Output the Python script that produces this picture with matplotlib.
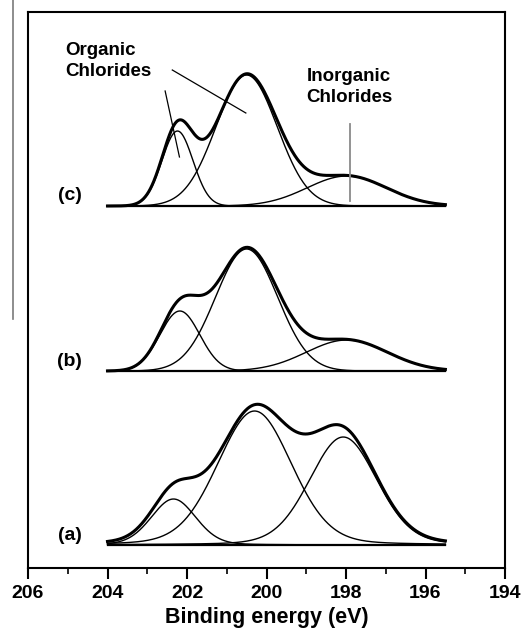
import numpy as np
import matplotlib
matplotlib.use('Agg')
import matplotlib.pyplot as plt
from matplotlib.lines import Line2D

plt.rcParams['font.family'] = ['Liberation Sans', 'DejaVu Sans']
plt.rcParams['font.weight'] = 'bold'

# Cl 2p fit components (binding energy in eV)
# order of components: organic (high BE), organic (main), inorganic
labels = ['(a)', '(b)', '(c)']
centres_a = [202.34, 200.30, 198.07]
heights_a = [46, 134, 108]
fwhm_a = [1.32, 2.20, 2.00]

centres_b = [202.18, 200.50, 197.98]
heights_b = [60, 122, 31]
fwhm_b = [1.18, 1.84, 2.40]

centres_c = [202.24, 200.50, 197.98]
heights_c = [75, 131, 30]
fwhm_c = [0.92, 1.81, 2.35]

lorentz_frac = [0.15, 0.0, 0.0]
baselines = [23, 197, 362]

e_start, e_end = 204.0, 195.5


def pseudo_voigt(x, c, h, w, eta):
    s = w / 2.3548
    g = np.exp(-0.5 * ((x - c) / s) ** 2)
    l = 1.0 / (1.0 + ((x - c) / (w / 2)) ** 2)
    return h * ((1 - eta) * g + eta * l)


fig = plt.figure(figsize=(5.22, 6.30), dpi=100)
ax = fig.add_axes([28 / 522, 62 / 630, 477 / 522, 556 / 630])

x = np.linspace(e_start, e_end, 600)
spectra = [(centres_a, heights_a, fwhm_a),
           (centres_b, heights_b, fwhm_b),
           (centres_c, heights_c, fwhm_c)]

for i, (cs, hs, ws) in enumerate(spectra):
    base = baselines[i]
    env = np.zeros_like(x)
    for c, h, w in zip(cs, hs, ws):
        comp = pseudo_voigt(x, c, h, w, lorentz_frac[i])
        env += comp
        ax.plot(x, base + comp, color='black', lw=1.0)
    ax.plot([e_start, e_end], [base, base], color='black', lw=1.6)
    ax.plot(x, base + env, color='black', lw=2.2)
    ax.text(204.95, base + 10, labels[i], fontsize=14, fontweight='bold',
            ha='center', va='center')

# annotations
ax.text(205.07, 507, 'Organic\nChlorides', fontsize=13.5, fontweight='bold',
        ha='left', va='center', linespacing=1.3)
ax.text(198.99, 481, 'Inorganic\nChlorides', fontsize=13.5, fontweight='bold',
        ha='left', va='center', linespacing=1.3)
ax.plot([202.55, 202.19], [477, 411], color='black', lw=0.9)
ax.plot([202.37, 200.52], [498, 455], color='black', lw=0.9)
ax.plot([197.9, 197.9], [444, 367], color='#8a8a8a', lw=1.3)

ax.set_xlim(206, 194)
ax.set_ylim(0, 556)
ax.set_xticks([206, 204, 202, 200, 198, 196, 194])
ax.set_xticks([205, 203, 201, 199, 197, 195], minor=True)
ax.set_yticks([])
ax.tick_params(axis='x', which='major', direction='out', length=8, width=1.5,
               labelsize=14, pad=4)
ax.tick_params(axis='x', which='minor', direction='out', length=4, width=1.2)
for lab in ax.get_xticklabels():
    lab.set_fontweight('bold')
for sp in ax.spines.values():
    sp.set_linewidth(1.5)
ax.set_xlabel('Binding energy (eV)', fontsize=15.5, fontweight='bold', labelpad=4)

# stray grey bar at the left edge of the original
fig.add_artist(Line2D([13 / 522, 13 / 522], [1.0, 311 / 630],
                      color='#7a7a7a', lw=1.2))

fig.savefig('out.png', dpi=100)
